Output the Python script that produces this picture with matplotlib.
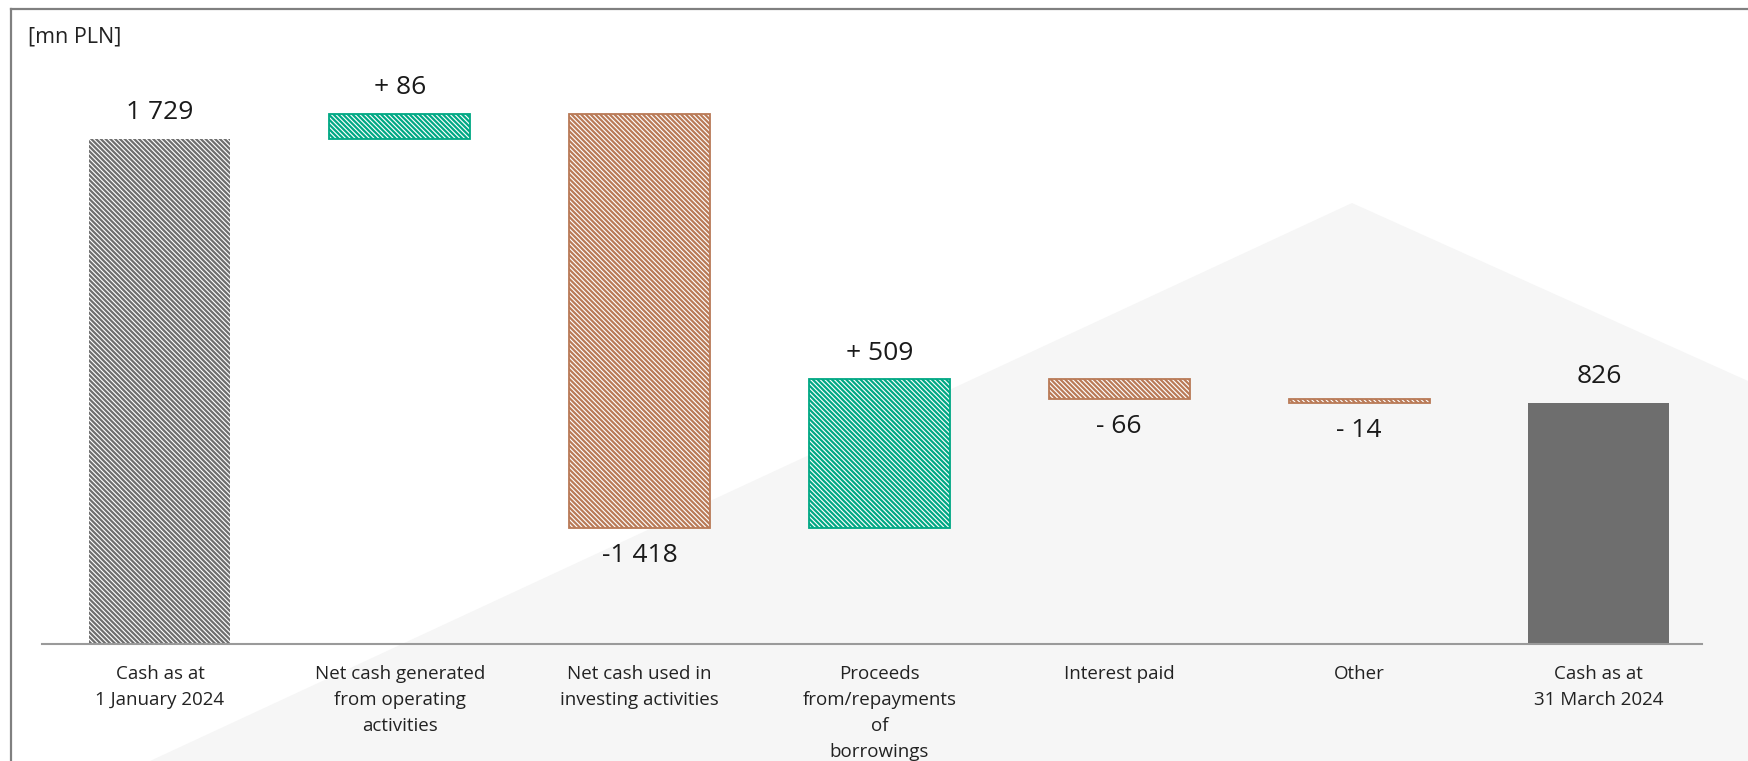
import numpy as np
import matplotlib
matplotlib.use("Agg")
import matplotlib.pyplot as plt
from matplotlib.patches import Polygon
from matplotlib.lines import Line2D

plt.rcParams['font.family'] = ['Open Sans', 'DejaVu Sans']
plt.rcParams['hatch.linewidth'] = 1.6

# dane (mn PLN)
categories = [
    "Cash as at\n1 January 2024",
    "Net cash generated\nfrom operating\nactivities",
    "Net cash used in\ninvesting activities",
    "Proceeds\nfrom/repayments\nof\nborrowings",
    "Interest paid",
    "Other",
    "Cash as at\n31 March 2024",
]
start_value = 1729
changes = [86, -1418, 509, -66, -14]
end_value = 826
value_labels = ["1 729", "+ 86", "-1 418", "+ 509", "- 66", "- 14", "826"]

GRAY = "#6e6e6e"
GREEN = "#00a884"
BROWN = "#b97a57"
HATCH = "\\" * 7

# waterfall: podstawy i wysokości słupków
levels = np.cumsum([start_value] + changes)
heights = [start_value] + [abs(c) for c in changes] + [end_value]
bottoms = [0]
for i, c in enumerate(changes):
    prev = levels[i]
    bottoms.append(prev if c >= 0 else prev + c)
bottoms.append(0)
tops = [b + h for b, h in zip(bottoms, heights)]

W, H = 1748, 761
fig = plt.figure(figsize=(W / 100, H / 100), dpi=100)
fig.patch.set_facecolor("white")

# tło - jasnoszary "dach"
bg = Polygon([(150 / W, 0), (1352 / W, 1 - 203 / H), (1, 1 - 381 / H), (1, 0)],
             closed=True, transform=fig.transFigure, facecolor="#f6f6f6",
             edgecolor="none", zorder=-5)
fig.patches.append(bg)

# ramka slajdu (góra i lewa)
fig.lines.append(Line2D([11 / W, 1], [1 - 9 / H, 1 - 9 / H], transform=fig.transFigure,
                        color="#808080", lw=1.6))
fig.lines.append(Line2D([11 / W, 11 / W], [0, 1 - 9 / H], transform=fig.transFigure,
                        color="#808080", lw=1.6))

ax = fig.add_axes([42 / W, 1 - 644 / H, 1660 / W, 644 / H])
ax.set_facecolor("none")
ax.set_xlim(-0.492, 6.43)
ax.set_ylim(0, 2205)

x = np.arange(len(categories))
width = 0.588

for i in range(len(categories)):
    if i == 0:
        ax.bar(x[i], heights[i], bottom=bottoms[i], width=width, facecolor="white",
               edgecolor=GRAY, linewidth=0, hatch=HATCH)
    elif i == len(categories) - 1:
        ax.bar(x[i], heights[i], bottom=bottoms[i], width=width, color=GRAY, linewidth=0)
    else:
        col = GREEN if changes[i - 1] >= 0 else BROWN
        ax.bar(x[i], heights[i], bottom=bottoms[i], width=width, facecolor="white",
               edgecolor=col, linewidth=1.3, hatch=HATCH)

# etykiety wartości
for i in range(len(categories)):
    below = 0 < i < len(categories) - 1 and changes[i - 1] < 0
    if below:
        ax.annotate(value_labels[i], (x[i], bottoms[i]), xytext=(0, -11),
                    textcoords="offset points", ha="center", va="top",
                    fontsize=19, color="#1a1a1a")
    else:
        ax.annotate(value_labels[i], (x[i], tops[i]), xytext=(0, 10),
                    textcoords="offset points", ha="center", va="bottom",
                    fontsize=19, color="#1a1a1a")

ax.set_xticks(x)
ax.set_xticklabels(categories, fontsize=13.5, color="#222222", linespacing=1.58)
ax.tick_params(axis="x", length=0, pad=15)
ax.set_yticks([])
for s in ["top", "right", "left"]:
    ax.spines[s].set_visible(False)
ax.spines["bottom"].set_color("#9a9a9a")
ax.spines["bottom"].set_linewidth(1.5)

fig.text(28 / W, 1 - 37 / H, "[mn PLN]", fontsize=15.5, color="#222222", va="center")

fig.savefig("out.png", dpi=100)
